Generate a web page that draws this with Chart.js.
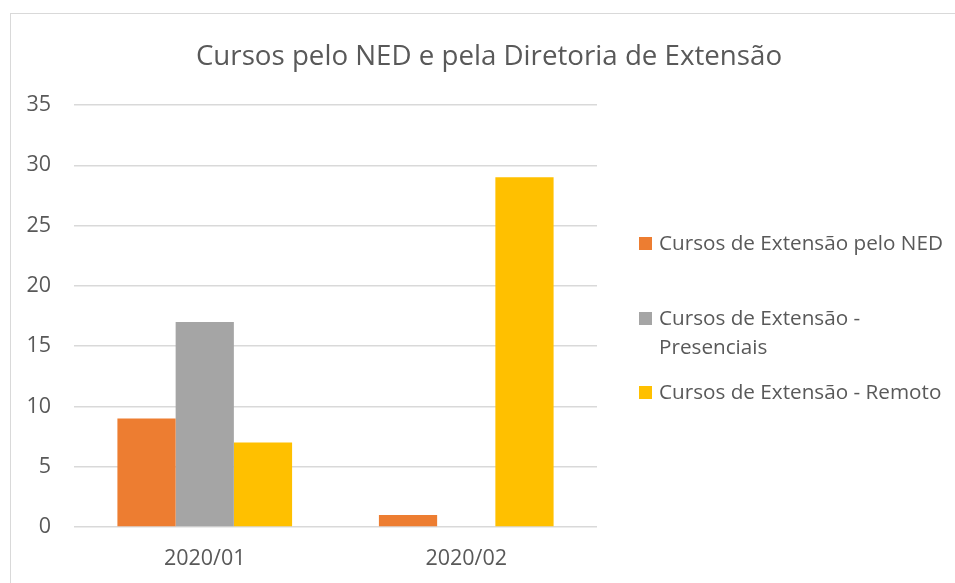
<!DOCTYPE html>
<html>
<head>
<meta charset="utf-8">
<script src="https://cdn.jsdelivr.net/npm/chart.js@4"></script>
<style>
  html, body { margin: 0; padding: 0; background: #fff; overflow: hidden; width: 955px; height: 583px; }
  #frame { position: absolute; left: 10px; top: 13px; width: 1000px; height: 700px; border-left: 1px solid #d9d9d9; border-top: 1px solid #d9d9d9; }
  #wrap { position: absolute; left: 10px; top: 13px; width: 958px; height: 580px; }
  #legend { position: absolute; left: 639px; top: 228px; font-family: "Open Sans", sans-serif; font-size: 20.7px; color: #595959; }
  .item { position: absolute; padding-left: 20px; line-height: 29px; width: 310px; white-space: nowrap; }
  .box { position: absolute; left: 0; top: 9px; width: 13px; height: 13px; }
</style>
</head>
<body>
<div id="frame"></div>
<div id="wrap"><canvas id="chart"></canvas></div>
<div id="legend"></div>
<script>
const categories = ["2020/01", "2020/02"];
const seriesNames = ["Cursos de Extensão pelo NED", "Cursos de Extensão - Presenciais", "Cursos de Extensão - Remoto"];
const legendLines = [["Cursos de Extensão pelo NED"], ["Cursos de Extensão -", "Presenciais"], ["Cursos de Extensão - Remoto"]];
const nedValues = [9, 1];
const presencialValues = [17, 0];
const remotoValues = [7, 29];
const colors = ["#ED7D31", "#A5A5A5", "#FFC000"];
const textColor = "#595959";
const chartTitle = "Cursos pelo NED e pela Diretoria de Extensão";

const datasets = [nedValues, presencialValues, remotoValues].map((values, i) => ({
  label: seriesNames[i],
  data: values,
  backgroundColor: colors[i],
  borderWidth: 0,
  categoryPercentage: 0.668,
  barPercentage: 1,
}));

// title centred on the whole canvas, not just the plot side
const centredTitle = {
  id: "centredTitle",
  afterDraw(chart) {
    const ctx = chart.ctx;
    ctx.save();
    ctx.fillStyle = textColor;
    ctx.font = '27.7px "Open Sans"';
    ctx.textAlign = "center";
    ctx.textBaseline = "middle";
    ctx.fillText(chartTitle, chart.width / 2, 44);
    ctx.restore();
  },
};

const config = {
  type: "bar",
  data: { labels: categories, datasets },
  plugins: [centredTitle],
  options: {
    responsive: false,
    animation: false,
    layout: { padding: { left: 0, right: 371, top: 92, bottom: 26 } },
    plugins: {
      legend: { display: false },
      tooltip: { enabled: false },
      title: { display: false },
    },
    scales: {
      x: {
        grid: { display: false, drawTicks: false },
        border: { display: false },
        ticks: { color: textColor, padding: 19, font: { family: "Open Sans", size: 21.5 } },
        afterFit: (scale) => { scale.height = 40; },
      },
      y: {
        min: 0,
        max: 35,
        ticks: { stepSize: 5, color: textColor, padding: 23, font: { family: "Open Sans", size: 21.5 } },
        grid: { color: "#d9d9d9", lineWidth: 1.5, drawTicks: false },
        border: { display: false },
        afterFit: (scale) => { scale.width = 64; },
      },
    },
  },
};

const canvas = document.getElementById("chart");
canvas.width = 958;
canvas.height = 580;
new Chart(canvas, config);

const legend = document.getElementById("legend");
const itemTops = [0, 75, 149];
legendLines.forEach((lines, i) => {
  const item = document.createElement("div");
  item.className = "item";
  item.style.top = itemTops[i] + "px";
  item.innerHTML = `<span class="box" style="background:${colors[i]}"></span>${lines.join("<br>")}`;
  legend.appendChild(item);
});
</script>
</body>
</html>
